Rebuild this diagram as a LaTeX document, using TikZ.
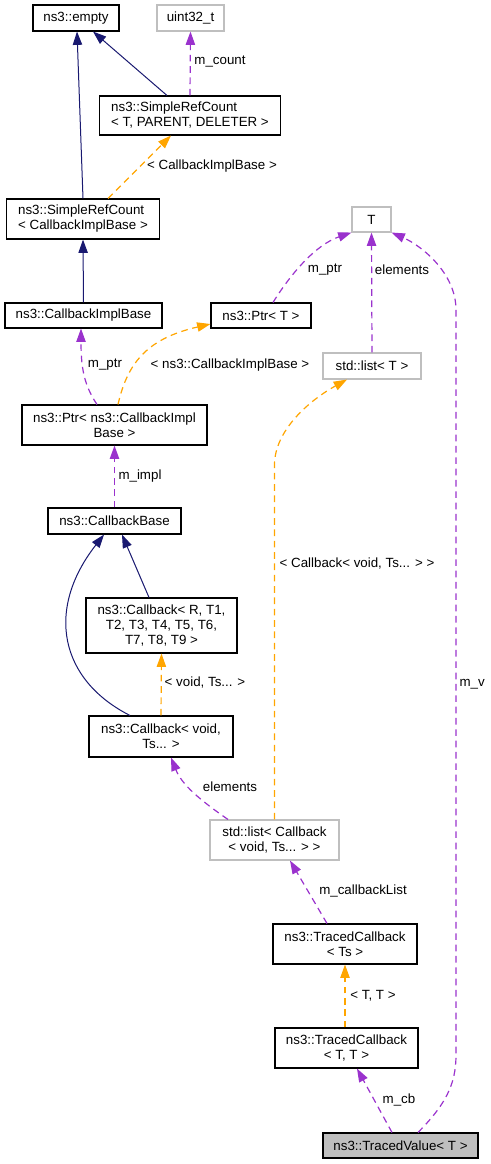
\documentclass[tikz,border=0pt]{standalone}
\usepackage{fontspec}
\setmainfont{Liberation Sans}
\usetikzlibrary{arrows.meta}
\definecolor{edgenavy}{HTML}{191970}
\definecolor{edgepurple}{HTML}{9A32CD}
\definecolor{edgeorange}{HTML}{FFA500}
\definecolor{boxgrey}{HTML}{BFBFBF}
\begin{document}
\begin{tikzpicture}[x=0.75pt, y=-0.75pt,
  cls/.style={draw=black, line width=0.8pt, inner sep=0pt, align=center,
    font=\fontsize{10}{11.25}\selectfont, minimum height=19.5pt},
  ext/.style={cls, draw=boxgrey},
  lft/.style={align=left, inner xsep=8.8pt},
  lbl/.style={inner sep=0pt, font=\fontsize{10}{11.25}\selectfont},
  inherit/.style={draw=edgenavy, line width=0.75pt, -{Triangle[length=10pt,width=7pt]}},
  member/.style={draw=edgepurple, line width=0.9pt, dash pattern=on 5pt off 3.5pt,
    -{Triangle[length=10pt,width=7pt]}},
  tmpl/.style={member, draw=edgeorange}]
\useasboundingbox (0,0) rectangle (491,1164);
% classes
\node[cls, minimum width=64.5pt] (empty) at (76,18) {ns3::empty};
\node[ext, minimum width=50.25pt] (uint32) at (190.5,18) {uint32\_t};
\node[cls, lft, minimum height=29.25pt] (srcTPD) at (190,115.5) {ns3::SimpleRefCount\\< T, PARENT, DELETER >};
\node[cls, lft, minimum height=30pt] (srcCIB) at (83,219) {ns3::SimpleRefCount\\< CallbackImplBase >};
\node[ext, minimum width=29.25pt, minimum height=18.75pt] (T) at (371.5,219.5) {T};
\node[cls, minimum width=117.75pt, minimum height=18.75pt] (CIB) at (83.5,315.5) {ns3::CallbackImplBase};
\node[cls, minimum width=75pt, minimum height=18.75pt] (ptrT) at (261,315.5) {ns3::Ptr< T >};
\node[ext, minimum width=73.5pt] (listT) at (372,366) {std::list< T >};
\node[cls, minimum width=138.75pt, minimum height=30pt] (ptrCIB) at (114.5,425) {ns3::Ptr< ns3::CallbackImpl\\Base >};
\node[cls, minimum width=99.75pt] (cbBase) at (114.5,521) {ns3::CallbackBase};
\node[cls, minimum width=113.25pt, minimum height=41.25pt] (cbR) at (161.5,625.5) {ns3::Callback< R, T1,\\T2, T3, T4, T5, T6,\\T7, T8, T9 >};
\node[cls, minimum width=108pt, minimum height=30.75pt] (cbVoid) at (161,736.5) {ns3::Callback< void,\\Ts... >};
\node[ext, minimum width=96.75pt, minimum height=30pt] (listCb) at (274.5,840) {std::list< Callback\\< void, Ts... > >};
\node[cls, minimum width=108pt, minimum height=30pt] (tcTs) at (345,944) {ns3::TracedCallback\\< Ts >};
\node[cls, minimum width=107.25pt, minimum height=30pt] (tcTT) at (346.5,1048) {ns3::TracedCallback\\< T, T >};
\node[cls, fill=boxgrey, minimum width=116.25pt, minimum height=18.75pt] (tv) at (400.5,1145.5) {ns3::TracedValue< T >};
% relations
\draw[inherit] (srcCIB.north) -- (empty.south -| 77,0);
\draw[inherit] (srcTPD.north -| 167,0) -- (empty.south -| 93,0);
\draw[member] (srcTPD.north) -- (uint32.south) node[lbl] at (220,62) {m\_count};
\draw[tmpl] (srcCIB.north -| 108,0) -- (srcTPD.south -| 171,0) node[lbl] at (212,166) {< CallbackImplBase >};
\draw[inherit] (CIB.north) -- (srcCIB.south);
\draw[member] (ptrCIB.north -| 97,0) .. controls (84,385) and (81,368) .. (CIB.south -| 81,0) node[lbl] at (105,365) {m\_ptr};
\draw[tmpl] (ptrCIB.north -| 118,0) .. controls (128,360) and (150,338) .. (ptrT.west |- 0,324) node[lbl] at (230,365) {< ns3::CallbackImplBase >};
\draw[member] (ptrT.north -| 273,0) .. controls (290,275) and (315,245) .. (T.south west) node[lbl] at (325,270) {m\_ptr};
\draw[member] (listT.north) -- (T.south) node[lbl] at (402,270) {elements};
\draw[member] (cbBase.north) -- (ptrCIB.south) node[lbl] at (140,476) {m\_impl};
\draw[inherit] (cbR.north -| 149,0) -- (cbBase.south -| 122,0);
\draw[inherit] (cbVoid.north -| 130,0) .. controls (60,680) and (45,610) .. (cbBase.south -| 104,0);
\draw[tmpl] (cbVoid.north) -- (cbR.south) node[lbl] at (205,683) {< void, Ts... >};
\draw[member] (listCb.north -| 228,0) .. controls (200,800) and (182,785) .. (cbVoid.south -| 171,0) node[lbl] at (230,787) {elements};
\draw[tmpl] (listCb.north) -- (274.5,465) .. controls (274.5,430) and (310,400) .. (listT.south -| 347,0) node[lbl] at (357,564) {< Callback< void, Ts... > >};
\draw[member] (tcTs.north -| 327,0) -- (listCb.south -| 290,0) node[lbl] at (363,891) {m\_callbackList};
\draw[tmpl] (tcTT.north -| 345,0) -- (tcTs.south -| 345,0) node[lbl] at (373,996) {< T, T >};
\draw[member] (tv.north -| 392,0) -- (tcTT.south -| 357,0) node[lbl] at (399,1100) {m\_cb};
\draw[member] (tv.north -| 418,0) .. controls (445,1105) and (456,1085) .. (456,1055) -- (456,310) .. controls (456,272) and (420,245) .. (T.south east) node[lbl, anchor=west] at (459,684) {m\_v};
\end{tikzpicture}
\end{document}
